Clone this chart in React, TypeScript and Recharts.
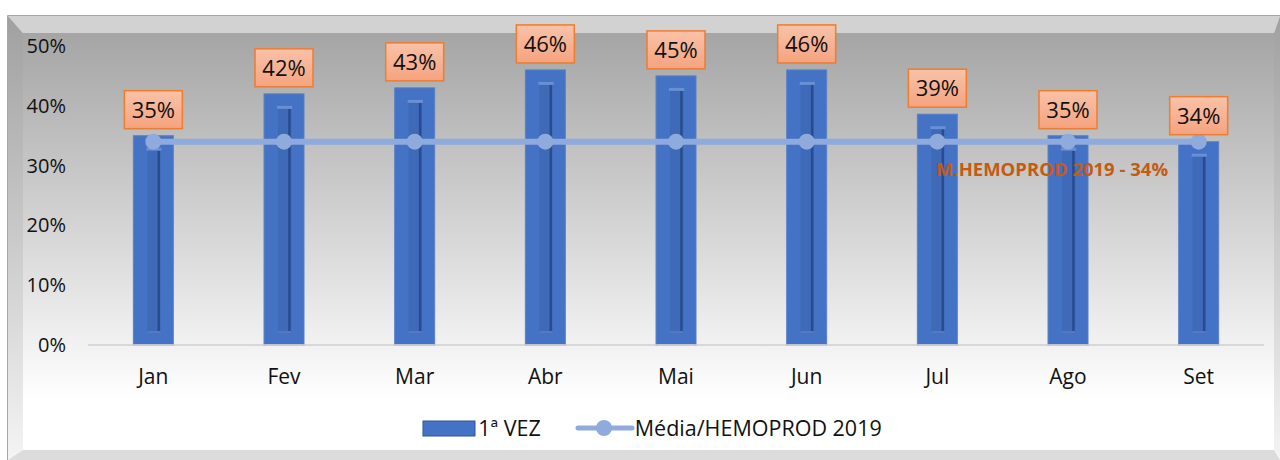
import React from 'react';
import { ComposedChart, Bar, Line, XAxis, YAxis, Legend, LabelList } from 'recharts';

const months = ['Jan', 'Fev', 'Mar', 'Abr', 'Mai', 'Jun', 'Jul', 'Ago', 'Set'];
const primeiraVez = [0.35, 0.42, 0.43, 0.46, 0.45, 0.46, 0.386, 0.35, 0.34];
const mediaHemoprod = [0.34, 0.34, 0.34, 0.34, 0.34, 0.34, 0.34, 0.34, 0.34];
const yTicks = [0, 0.1, 0.2, 0.3, 0.4, 0.5];

const data = months.map((m, i) => ({ month: m, vez: primeiraVez[i], media: mediaHemoprod[i] }));

const FONT = '"Open Sans", "Noto Sans", sans-serif';
const BAR_BLUE = '#4472c4';
const LINE_BLUE = '#8faadc';

const pct = (v: number) => `${Math.round(v * 100)}%`;

// bar with the little inner "groove" that the office 3D style draws
const GrooveBar = (props: any) => {
  const { x, y, width, height } = props;
  if (!height || height <= 0) return null;
  const ix = x + width * 0.35;
  const iw = width * 0.33;
  const top = y + 12;
  const bottom = y + height - 13;
  return (
    <g>
      <rect x={x} y={y} width={width} height={height} fill={BAR_BLUE} stroke="#5a82c9" strokeWidth={1} />
      <rect x={x + 1} y={y + height - 1} width={width - 2} height={1} fill="#8ea6d6" />
      {bottom > top && (
        <g>
          <rect x={ix} y={top} width={iw} height={bottom - top} fill="#3e6ab8" />
          <rect x={ix + iw - 3} y={top + 3} width={2.5} height={bottom - top - 3} fill="#2a4c8e" />
          <rect x={ix - 1} y={top} width={iw + 2} height={3} fill="#6a8fd2" />
          <rect x={ix} y={bottom - 1} width={iw} height={2} fill="#5578bf" />
        </g>
      )}
    </g>
  );
};

const BoxLabel = (props: any) => {
  const { x, y, width, value } = props;
  const w = 58;
  const h = 38;
  const cx = x + width / 2;
  const by = y - 7 - h;
  return (
    <g>
      <rect x={cx - w / 2} y={by} width={w} height={h} fill="url(#labelFill)" stroke="#ed7d31" strokeWidth={1.5} />
      <text x={cx} y={by + h / 2 + 8} textAnchor="middle" fontFamily={FONT} fontSize={22} fill="#111">
        {pct(value)}
      </text>
    </g>
  );
};

const YTick = (props: any) => {
  const { y, payload } = props;
  return (
    <text x={66} y={y + 7} textAnchor="end" fontFamily={FONT} fontSize={20} fill="#111">
      {pct(payload.value)}
    </text>
  );
};

const XTick = (props: any) => {
  const { x, y, payload } = props;
  return (
    <text x={x} y={y + 31} textAnchor="middle" fontFamily={FONT} fontSize={21} fill="#111">
      {payload.value}
    </text>
  );
};

const LegendContent = () => (
  <div style={{ display: 'flex', justifyContent: 'center', alignItems: 'center', height: 45, fontFamily: FONT, fontSize: 21.5, color: '#111', paddingLeft: 40 }}>
    <svg width={56} height={18}>
      <rect x={1} y={2} width={52} height={15} fill={BAR_BLUE} stroke="#2f5597" strokeWidth={1} />
    </svg>
    <span style={{ marginRight: 34 }}>1ª VEZ</span>
    <svg width={60} height={18}>
      <line x1={3} y1={9} x2={57} y2={9} stroke={LINE_BLUE} strokeWidth={5} strokeLinecap="round" />
      <circle cx={29} cy={9} r={8} fill={LINE_BLUE} />
    </svg>
    <span>Média/HEMOPROD 2019</span>
  </div>
);

const Frame = () => (
  <svg width={1280} height={460} style={{ position: 'absolute', left: 0, top: 0 }}>
    <defs>
      <linearGradient id="wall" x1="0" y1="0" x2="0" y2="1">
        <stop offset="0" stopColor="#a5a5a5" />
        <stop offset="0.88" stopColor="#ffffff" />
        <stop offset="1" stopColor="#ffffff" />
      </linearGradient>
      <linearGradient id="side" x1="0" y1="0" x2="0" y2="1">
        <stop offset="0" stopColor="#a0a0a0" />
        <stop offset="1" stopColor="#f4f4f4" />
      </linearGradient>
    </defs>
    <rect x={0} y={0} width={1280} height={460} fill="#ffffff" />
    <rect x={23} y={33} width={1251} height={417} fill="url(#wall)" />
    <polygon points="8,16 1280,16 1274,33 23,33" fill="#d2d2d2" />
    <polygon points="8,16 23,33 23,450 8,460" fill="url(#side)" />
    <polygon points="1280,16 1274,33 1274,450 1280,460" fill="url(#side)" />
    <polygon points="23,450 1274,450 1280,460 8,460" fill="#dcdcdc" />
    <line x1={7.5} y1={15.5} x2={1280} y2={15.5} stroke="#7fb0e0" strokeWidth={1} />
    <line x1={7.5} y1={15.5} x2={7.5} y2={460} stroke="#7fb0e0" strokeWidth={1} />
  </svg>
);

export default function App() {
  return (
    <div style={{ position: 'fixed', left: 0, top: 0, width: 1280, height: 460, overflow: 'hidden' }}>
      <Frame />
      <div style={{ position: 'absolute', left: 0, top: 0 }}>
        <ComposedChart width={1280} height={460} data={data} margin={{ top: 46, right: 16, left: 0, bottom: 10 }} barCategoryGap="34.7%">
          <defs>
            <linearGradient id="labelFill" x1="0" y1="0" x2="0" y2="1">
              <stop offset="0" stopColor="#f9c2a8" />
              <stop offset="1" stopColor="#f5a37f" />
            </linearGradient>
          </defs>
          <XAxis dataKey="month" height={60} tick={<XTick />} tickLine={false} axisLine={{ stroke: '#cfcfcf', strokeWidth: 1.5 }} />
          <YAxis width={88} domain={[0, 0.5]} ticks={yTicks} tick={<YTick />} tickLine={false} axisLine={false} />
          <Legend verticalAlign="bottom" height={45} content={<LegendContent />} />
          <Bar dataKey="vez" name="1ª VEZ" fill={BAR_BLUE} shape={<GrooveBar />} isAnimationActive={false}>
            <LabelList dataKey="vez" content={<BoxLabel />} />
          </Bar>
          <Line dataKey="media" name="Média/HEMOPROD 2019" stroke={LINE_BLUE} strokeWidth={6} dot={{ r: 8, fill: LINE_BLUE, stroke: 'none' }} activeDot={false} isAnimationActive={false} />
        </ComposedChart>
      </div>
      <div style={{ position: 'absolute', left: 852, top: 156, width: 400, textAlign: 'center', fontFamily: FONT, fontSize: 18.5, fontWeight: 700, color: '#c55a11' }}>
        M.HEMOPROD 2019 - 34%
      </div>
    </div>
  );
}
